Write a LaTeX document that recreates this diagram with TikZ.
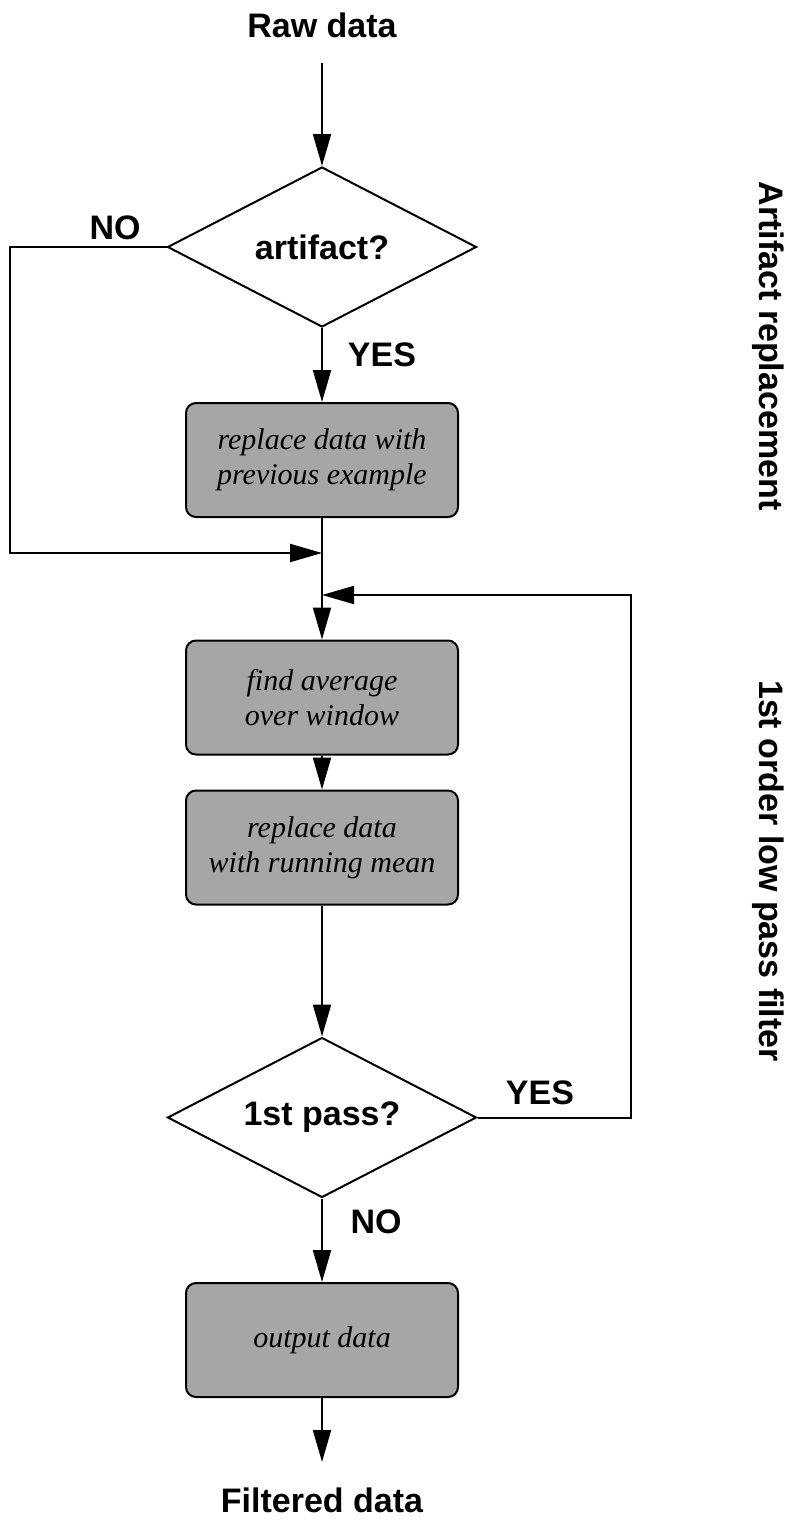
\documentclass[tikz,border=0pt]{standalone}
\usepackage{fontspec}
\usetikzlibrary{arrows.meta,shapes.geometric}
\newfontfamily\lblfont{Liberation Sans}
\newfontfamily\boxfont{Liberation Serif}
\begin{document}
\begin{tikzpicture}[x=1pt,y=-1pt,
  line width=2pt,
  lbl/.style={font=\lblfont\bfseries\fontsize{34}{40}\selectfont, inner sep=0pt},
  sidelbl/.style={font=\lblfont\bfseries\fontsize{34}{40}\selectfont, inner sep=0pt, rotate=-90},
  decision/.style={draw, diamond, shape aspect=1.93, minimum width=309pt, minimum height=160pt, inner sep=0pt,
     font=\lblfont\bfseries\fontsize{34}{40}\selectfont},
  procbox/.style={draw, rectangle, rounded corners=10pt, fill=black!35, minimum width=272pt,
     minimum height=114pt, align=center, inner sep=0pt,
     font=\boxfont\itshape\fontsize{30}{35}\selectfont},
  arr/.style={-{Triangle[length=32pt,width=18pt]}}]
\useasboundingbox (0,0) rectangle (796,1528);

\node[lbl] (raw) at (322,25) {Raw data};
\coordinate (start) at (322,63);
\node[decision] (d1) at (322,247) {artifact?};
\node[procbox] (b1) at (322,460) {replace data with\\previous example};
\coordinate (cl) at (10,553);
\coordinate (j1) at (322,553);
\coordinate (cr) at (631,595);
\coordinate (j2) at (322,595);
\node[procbox] (b2) at (322,697.5) {find average\\over window};
\node[procbox] (b3) at (322,847.5) {replace data\\with running mean};
\node[decision] (d2) at (322,1117.5) {1st pass?};
\node[procbox] (b4) at (322,1340) {output data};
\coordinate (finish) at (322,1462);
\node[lbl] (filt) at (322,1500) {Filtered data};

\node[lbl] (no1) at (115,228) {NO};
\node[lbl] (yes1) at (382,355) {YES};
\node[lbl] (yes2) at (540,1093) {YES};
\node[lbl] (no2) at (376,1222) {NO};

\node[sidelbl] (side1) at (768,346) {Artifact replacement};
\node[sidelbl] (side2) at (768,871) {1st order low pass filter};

\draw[arr] (start) -- (d1.north);
\draw[arr] (d1.south) -- (b1.north);
\draw[arr] (b1.south) -- (b2.north);
\draw[arr] (d1.west) -| (cl) -- (j1);
\draw[arr] (d2.east) -| (cr) -- (j2);
\draw[arr] (b2.south) -- (b3.north);
\draw[arr] (b3.south) -- (d2.north);
\draw[arr] (d2.south) -- (b4.north);
\draw[arr] (b4.south) -- (finish);
\end{tikzpicture}
\end{document}
